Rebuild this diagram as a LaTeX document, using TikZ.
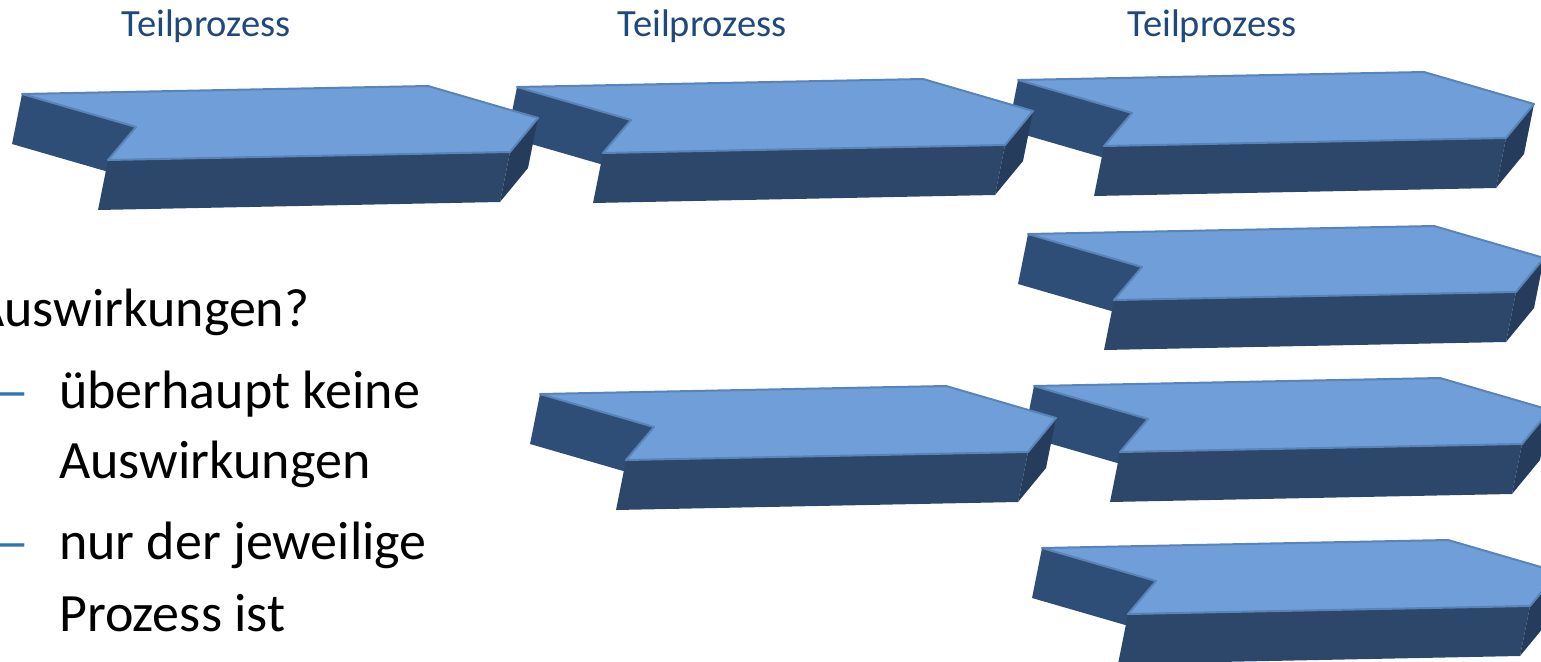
\documentclass[tikz,border=0pt]{standalone}
\usepackage{fontspec}
\setmainfont{Carlito}
\definecolor{topblue}{HTML}{6F9ED8}
\definecolor{bevelblue}{HTML}{5A83B8}
\definecolor{frontblue}{HTML}{2C4769}
\definecolor{notchblue}{HTML}{2E4E78}
\definecolor{sideblue}{HTML}{263C5C}
\definecolor{labelblue}{HTML}{1F497D}
\definecolor{dashblue}{HTML}{2E75B6}
\tikzset{
  topface/.style={fill=topblue, draw=bevelblue, line width=2pt, line join=round},
  frontface/.style={fill=frontblue},
  notchface/.style={fill=notchblue},
  sideface/.style={fill=sideblue},
  steplabel/.style={font=\fontsize{38.5}{44}\selectfont, text=labelblue, inner sep=0pt, anchor=base},
  bodytext/.style={font=\fontsize{54}{60}\selectfont, text=black, inner sep=0pt, anchor=base west},
  bullet/.style={font=\fontsize{54}{60}\selectfont, text=dashblue, inner sep=0pt, anchor=base east},
  % a chevron-shaped slab seen from above, origin at the back-left top corner
  slab/.pic={
    \fill[notchface] (0,0) -- (114,33) -- (104,83) -- (-10,50) -- cycle;
    \fill[frontface] (86,66) -- (488,58) -- (478,108) -- (76,116) -- cycle;
    \fill[sideface] (516,24) -- (488,58) -- (478,108) -- (506,74) -- cycle;
    \path[topface] (0,0) -- (406,-8) -- (516,24) -- (488,58) -- (86,66) -- (114,33) -- cycle;
  }
}
\begin{document}
\begin{tikzpicture}[x=1pt, y=-1pt]
  \useasboundingbox (0,0) rectangle (1541,661);
  \clip (0,0) rectangle (1541,661);

  % step labels
  \node[steplabel] (lab1) at (206,37) {Teilprozess};
  \node[steplabel] (lab2) at (702,37) {Teilprozess};
  \node[steplabel] (lab3) at (1212,37) {Teilprozess};

  % top row, drawn right to left so each tip lies over the next notch
  \pic (s3) at (1018,80) {slab};
  \pic (s2) at (517,87) {slab};
  \pic (s1) at (22,94) {slab};

  % right column
  \pic (s4) at (1028,234) {slab};
  \pic (s6) at (1034,386) {slab};
  \pic (s5) at (540,394) {slab};
  \pic (s7) at (1042,548) {slab};

  % text on the left
  \node[bodytext] (q) at (-27,326) {Auswirkungen?};
  \node[bullet] (d1) at (30,409) {—};
  \node[bodytext] (t1) at (59,408) {überhaupt keine};
  \node[bodytext] (t2) at (59,478) {Auswirkungen};
  \node[bullet] (d2) at (30,560) {—};
  \node[bodytext] (t3) at (59,559) {nur der jeweilige};
  \node[bodytext] (t4) at (59,631) {Prozess ist};
\end{tikzpicture}
\end{document}
